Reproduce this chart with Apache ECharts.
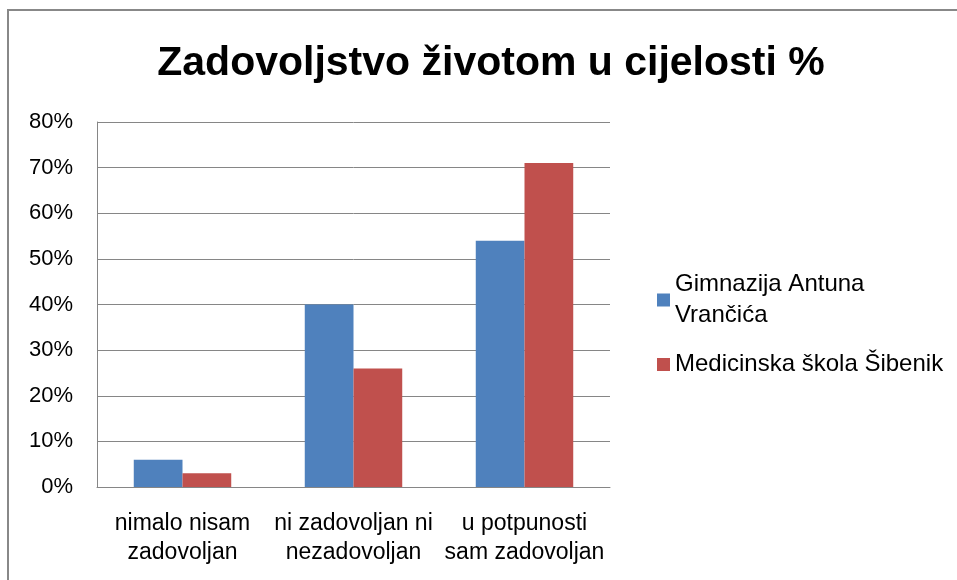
<!DOCTYPE html>
<html><head><meta charset="utf-8">
<script src="https://cdn.jsdelivr.net/npm/echarts@6/dist/echarts.min.js"></script>
<style>html,body{margin:0;padding:0;background:#fff}#c{width:957px;height:580px}</style>
</head><body><div id="c"></div>
<script>
const categories = ["nimalo nisam\nzadovoljan", "ni zadovoljan ni\nnezadovoljan", "u potpunosti\nsam zadovoljan"];
const gimnazija = [6, 40, 54];
const medicinska = [3, 26, 71];
const seriesNames = ["Gimnazija Antuna Vrančića", "Medicinska škola Šibenik"];
const legendLabels = ["Gimnazija Antuna\nVrančića", "Medicinska škola Šibenik"];
const yTicks = [0, 10, 20, 30, 40, 50, 60, 70, 80];

const font = "Liberation Sans";
const chart = echarts.init(document.getElementById('c'));
chart.setOption({
  animation: false,
  backgroundColor: '#fff',
  title: {
    text: 'Zadovoljstvo životom u cijelosti %',
    left: 486, top: 38, textAlign: 'center',
    textStyle: {fontFamily: font, fontWeight: 'bold', fontSize: 41, color: '#000'}
  },
  graphic: [{type: 'rect', shape: {x: 8, y: 10, width: 1000, height: 700}, style: {fill: 'none', stroke: '#888', lineWidth: 2}}],
  legend: {
    orient: 'vertical', left: 652, top: 264, itemWidth: 13, itemHeight: 13, itemGap: 18,
    icon: 'rect',
    data: seriesNames,
    formatter: name => legendLabels[seriesNames.indexOf(name)],
    textStyle: {fontFamily: font, fontSize: 24, color: '#000', lineHeight: 31}
  },
  grid: {left: 97, right: 347, top: 122, bottom: 93},
  xAxis: {
    type: 'category', data: categories,
    axisLine: {lineStyle: {color: '#868686'}},
    axisTick: {show: false},
    axisLabel: {fontFamily: font, fontSize: 23, color: '#000', lineHeight: 29, margin: 22, interval: 0}
  },
  yAxis: {
    type: 'value', min: 0, max: 80, interval: 10,
    axisLine: {show: true, lineStyle: {color: '#868686'}},
    axisTick: {show: false},
    splitLine: {lineStyle: {color: '#868686'}},
    axisLabel: {fontFamily: font, fontSize: 22, color: '#000', margin: 24, formatter: v => v + '%'}
  },
  series: [
    {name: seriesNames[0], type: 'bar', data: gimnazija, itemStyle: {color: '#4F81BD'}, barGap: '0%', barCategoryGap: '43%'},
    {name: seriesNames[1], type: 'bar', data: medicinska, itemStyle: {color: '#C0504D'}, barGap: '0%', barCategoryGap: '43%'}
  ]
});
</script></body></html>
